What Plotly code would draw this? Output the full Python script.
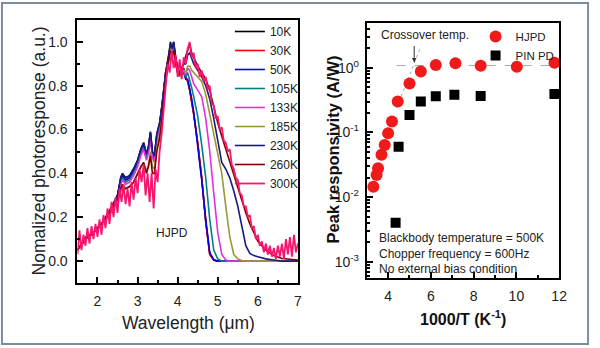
import math
import plotly.graph_objects as go

# ---------------- left panel: normalized photoresponse spectra ----------------
temps = ["10K", "30K", "50K", "105K", "133K", "185K", "230K", "260K", "300K"]
colors = ["#000000", "#ff0000", "#0000e6", "#008080", "#e030e0",
          "#999933", "#1a1a80", "#800000", "#f5166e"]

wl = [1.5, 1.7, 1.9, 2.1, 2.3, 2.5, 2.58, 2.62, 2.7, 2.8, 2.9, 3.0,
      3.08, 3.15, 3.22, 3.27, 3.32, 3.37, 3.42, 3.48, 3.55, 3.62,
      3.7, 3.78, 3.82, 3.86, 3.9, 3.95, 4.0, 4.05, 4.1, 4.15,
      4.2, 4.25, 4.3, 4.35, 4.4, 4.5, 4.6, 4.7, 4.8, 4.9,
      5.0, 5.1, 5.2, 5.3, 5.4, 5.5, 5.6, 5.7, 5.8, 5.9,
      6.0, 6.2, 6.4, 6.6, 6.8, 7.0]

r10K = [0.05, 0.10, 0.13, 0.17, 0.23, 0.30, 0.38, 0.40, 0.38, 0.39, 0.42, 0.46,
        0.51, 0.54, 0.49, 0.52, 0.59, 0.50, 0.48, 0.58, 0.63, 0.72,
        0.86, 0.94, 1.00, 0.96, 1.00, 0.92, 0.88, 0.85, 0.86, 0.88,
        0.84, 0.82, 0.78, 0.73, 0.67, 0.54, 0.38, 0.18, 0.03, 0.005,
        0, 0, 0, 0, 0, 0, 0, 0, 0, 0,
        0, 0, 0, 0, 0, 0]
r30K = [0.05, 0.10, 0.13, 0.17, 0.22, 0.30, 0.37, 0.39, 0.37, 0.38, 0.41, 0.45,
        0.50, 0.53, 0.48, 0.51, 0.58, 0.49, 0.47, 0.57, 0.62, 0.72,
        0.86, 0.93, 0.99, 0.95, 0.99, 0.92, 0.88, 0.85, 0.86, 0.87,
        0.84, 0.82, 0.78, 0.73, 0.67, 0.54, 0.38, 0.18, 0.03, 0.005,
        0, 0, 0, 0, 0, 0, 0, 0, 0, 0,
        0, 0, 0, 0, 0, 0]
r50K = [0.05, 0.10, 0.13, 0.17, 0.22, 0.30, 0.37, 0.39, 0.37, 0.38, 0.41, 0.45,
        0.50, 0.53, 0.48, 0.51, 0.58, 0.49, 0.47, 0.57, 0.62, 0.72,
        0.85, 0.93, 0.98, 0.95, 0.99, 0.91, 0.87, 0.85, 0.86, 0.86,
        0.83, 0.83, 0.79, 0.74, 0.68, 0.53, 0.37, 0.19, 0.04, 0.005,
        0, 0, 0, 0, 0, 0, 0, 0, 0, 0,
        0, 0, 0, 0, 0, 0]
r105K = [0.05, 0.10, 0.13, 0.17, 0.22, 0.29, 0.36, 0.38, 0.36, 0.37, 0.40, 0.44,
         0.49, 0.52, 0.47, 0.50, 0.57, 0.48, 0.46, 0.56, 0.61, 0.71,
         0.85, 0.93, 0.98, 0.95, 0.98, 0.91, 0.87, 0.85, 0.86, 0.86,
         0.84, 0.86, 0.83, 0.79, 0.75, 0.66, 0.53, 0.38, 0.19, 0.05,
         0.01, 0, 0, 0, 0, 0, 0, 0, 0, 0,
         0, 0, 0, 0, 0, 0]
r133K = [0.05, 0.10, 0.13, 0.17, 0.22, 0.29, 0.35, 0.37, 0.35, 0.36, 0.39, 0.43,
         0.48, 0.51, 0.46, 0.49, 0.56, 0.47, 0.45, 0.55, 0.60, 0.70,
         0.84, 0.92, 0.97, 0.94, 0.97, 0.90, 0.86, 0.85, 0.86, 0.87,
         0.85, 0.88, 0.87, 0.84, 0.81, 0.78, 0.75, 0.65, 0.50, 0.31,
         0.13, 0.03, 0.005, 0, 0, 0, 0, 0, 0, 0,
         0, 0, 0, 0, 0, 0]
r185K = [0.05, 0.10, 0.13, 0.17, 0.21, 0.27, 0.32, 0.34, 0.33, 0.34, 0.36, 0.40,
         0.43, 0.45, 0.41, 0.44, 0.50, 0.43, 0.42, 0.52, 0.58, 0.68,
         0.84, 0.93, 0.98, 0.95, 0.96, 0.90, 0.86, 0.84, 0.86, 0.87,
         0.86, 0.89, 0.89, 0.87, 0.86, 0.84, 0.82, 0.76, 0.67, 0.59,
         0.50, 0.40, 0.25, 0.11, 0.03, 0.01, 0.003, 0, 0, 0,
         0, 0, 0, 0, 0, 0]
r230K = [0.05, 0.10, 0.13, 0.17, 0.22, 0.30, 0.38, 0.40, 0.38, 0.39, 0.42, 0.46,
         0.51, 0.54, 0.49, 0.52, 0.59, 0.50, 0.48, 0.58, 0.63, 0.72,
         0.86, 0.94, 0.99, 0.97, 1.00, 0.93, 0.88, 0.86, 0.88, 0.90,
         0.90, 0.94, 0.95, 0.92, 0.90, 0.87, 0.84, 0.80, 0.74, 0.65,
         0.55, 0.45, 0.42, 0.38, 0.32, 0.25, 0.16, 0.07, 0.035, 0.025,
         0.02, 0.01, 0.005, 0, 0, 0]
r260K = [0.05, 0.11, 0.13, 0.17, 0.22, 0.28, 0.33, 0.35, 0.33, 0.34, 0.36, 0.40,
         0.43, 0.45, 0.40, 0.43, 0.48, 0.40, 0.40, 0.50, 0.56, 0.67,
         0.82, 0.92, 0.96, 0.94, 0.96, 0.90, 0.86, 0.85, 0.88, 0.91,
         0.93, 0.97, 0.99, 0.95, 0.93, 0.89, 0.86, 0.83, 0.78, 0.70,
         0.63, 0.57, 0.51, 0.45, 0.40, 0.34, 0.28, 0.22, 0.17, 0.13,
         0.09, 0.05, 0.025, 0.012, 0.008, 0.005]

wl300 = [1.50, 1.55, 1.60, 1.65, 1.70, 1.75, 1.80, 1.85, 1.90, 1.95,
         2.00, 2.05, 2.10, 2.15, 2.20, 2.25, 2.30, 2.35, 2.40, 2.45,
         2.50, 2.55, 2.60, 2.65, 2.70, 2.75, 2.80, 2.85, 2.90, 2.95,
         3.00, 3.05, 3.10, 3.15, 3.20, 3.25, 3.30, 3.35, 3.40, 3.45,
         3.50, 3.55, 3.60, 3.65, 3.70, 3.75, 3.80, 3.85, 3.90, 3.95,
         4.00, 4.05, 4.10, 4.15, 4.20, 4.25, 4.30, 4.35, 4.40, 4.45,
         4.50, 4.55, 4.60, 4.65, 4.70, 4.75, 4.80, 4.85, 4.90, 4.95,
         5.00, 5.05, 5.10, 5.15, 5.20, 5.25, 5.30, 5.35, 5.40, 5.45,
         5.50, 5.55, 5.60, 5.65, 5.70, 5.75, 5.80, 5.85, 5.90, 5.95,
         6.00, 6.05, 6.10, 6.15, 6.20, 6.25, 6.30, 6.35, 6.40, 6.45,
         6.50, 6.55, 6.60, 6.65, 6.70, 6.75, 6.80, 6.85, 6.90, 6.95,
         7.00]
r300K = [0.03, 0.14, 0.05, 0.12, 0.07, 0.15, 0.08, 0.16, 0.10, 0.17,
         0.11, 0.19, 0.12, 0.21, 0.15, 0.24, 0.17, 0.27, 0.20, 0.29,
         0.22, 0.33, 0.27, 0.35, 0.26, 0.33, 0.25, 0.36, 0.28, 0.38,
         0.31, 0.42, 0.36, 0.44, 0.30, 0.40, 0.27, 0.40, 0.24, 0.42,
         0.36, 0.50, 0.58, 0.70, 0.80, 0.90, 0.86, 0.96, 0.88, 0.94,
         0.84, 0.92, 0.83, 0.93, 0.90, 0.97, 1.00, 0.93, 0.95, 0.88,
         0.90, 0.84, 0.87, 0.82, 0.84, 0.78, 0.80, 0.72, 0.71, 0.65,
         0.66, 0.60, 0.61, 0.55, 0.54, 0.50, 0.51, 0.44, 0.42, 0.38,
         0.37, 0.31, 0.30, 0.25, 0.25, 0.20, 0.21, 0.15, 0.16, 0.10,
         0.12, 0.07, 0.09, 0.04, 0.08, 0.03, 0.07, 0.02, 0.06, 0.01,
         0.07, 0.02, 0.08, 0.01, 0.10, 0.03, 0.11, 0.02, 0.12, 0.04,
         0.08]

spectra = [(wl, r10K), (wl, r30K), (wl, r50K), (wl, r105K), (wl, r133K),
           (wl, r185K), (wl, r230K), (wl, r260K), (wl300, r300K)]

# ---------------- right panel: peak responsivity ----------------
inv_T_hjpd = [3.31, 3.46, 3.53, 3.69, 3.84, 4.0, 4.18, 4.45, 5.0, 5.53,
              6.23, 7.15, 8.33, 10.02, 11.78]
resp_hjpd = [0.0145, 0.022, 0.028, 0.045, 0.064, 0.097, 0.147, 0.30, 0.57, 0.87,
             1.1, 1.17, 1.07, 1.03, 1.19]
inv_T_pin = [4.35, 4.49, 5.0, 5.53, 6.23, 7.1, 8.33, 11.78]
resp_pin = [0.004, 0.06, 0.186, 0.30, 0.36, 0.38, 0.365, 0.39]

plateau_x = [4.4, 12.0]
plateau_y = [1.08, 1.08]
slope_x = [4.4, 5.5]
slope_y = [0.24, 2.0]
crossover_x = 5.22
crossover_y = 1.2

FONT = "Arial, 'Liberation Sans', sans-serif"
W, H = 600, 348

fig = go.Figure()

for (xs, ys), name, col in zip(spectra, temps, colors):
    fig.add_trace(go.Scatter(
        x=xs, y=ys, mode="lines", name=name,
        line=dict(color=col, width=1.6 if name != "300K" else 1.8),
        xaxis="x", yaxis="y", legend="legend"))

fig.add_trace(go.Scatter(x=plateau_x, y=plateau_y, mode="lines",
                         line=dict(color="#aaaaaa", width=1, dash="dash"),
                         xaxis="x2", yaxis="y2", showlegend=False))
fig.add_trace(go.Scatter(x=slope_x, y=slope_y, mode="lines",
                         line=dict(color="#aaaaaa", width=1, dash="dot"),
                         xaxis="x2", yaxis="y2", showlegend=False))
fig.add_trace(go.Scatter(x=inv_T_hjpd, y=resp_hjpd, mode="markers", name="HJPD",
                         marker=dict(symbol="circle", size=12, color="#f01a1a"),
                         xaxis="x2", yaxis="y2", legend="legend2"))
fig.add_trace(go.Scatter(x=inv_T_pin, y=resp_pin, mode="markers", name="PIN PD",
                         marker=dict(symbol="square", size=10, color="#000000"),
                         xaxis="x2", yaxis="y2", legend="legend2"))

axis_common = dict(showline=True, linecolor="black", linewidth=2, mirror=True,
                   ticks="inside", tickcolor="black", tickwidth=1.5,
                   showgrid=False, zeroline=False,
                   tickfont=dict(family=FONT, size=14, color="#222222"))

fig.update_layout(
    width=W, height=H,
    margin=dict(l=0, r=0, t=0, b=0),
    paper_bgcolor="white", plot_bgcolor="white",
    font=dict(family=FONT, color="#222222"),
    xaxis=dict(domain=[78.5 / W, 302 / W], range=[1.5, 7.001], dtick=1, ticklen=6,
               minor=dict(dtick=0.5, ticklen=3, ticks="inside", tickcolor="black", tickwidth=1.5),
               ticklabelstandoff=4, anchor="y", **axis_common),
    yaxis=dict(domain=[65 / H, 328 / H], range=[-0.1, 1.1], dtick=0.2, tickformat=".1f",
               ticklen=6,
               minor=dict(dtick=0.1, ticklen=3, ticks="inside", tickcolor="black", tickwidth=1.5),
               ticklabelstandoff=5, anchor="x", **axis_common),
    xaxis2=dict(domain=[371.7 / W, 566.7 / W], range=[3, 12.001], dtick=2, ticklen=6,
                minor=dict(dtick=1, ticklen=3, ticks="inside", tickcolor="black", tickwidth=1.5),
                ticklabelstandoff=4, anchor="y2", **axis_common),
    yaxis2=dict(domain=[70 / H, 325 / H], type="log", range=[-3.25, 0.69],
                tickmode="array", tickvals=[0.001, 0.01, 0.1, 1],
                ticktext=["10<sup>-3</sup>", "10<sup>-2</sup>", "10<sup>-1</sup>", "10<sup>0</sup>"],
                ticklen=6,
                minor=dict(tickmode="array",
                           tickvals=[k * 10 ** e for e in (-4, -3, -2, -1, 0) for k in range(2, 10)],
                           ticklen=3, ticks="inside", tickcolor="black", tickwidth=1.5),
                ticklabelstandoff=3, anchor="x2", **axis_common),
    legend=dict(x=233 / W, y=1 - 17 / H, xanchor="left", yanchor="top",
                bgcolor="rgba(0,0,0,0)", borderwidth=0,
                font=dict(family=FONT, size=12, color="#222222"),
                tracegroupgap=0),
    legend2=dict(x=482 / W, y=1 - 22 / H, xanchor="left", yanchor="top",
                 bgcolor="rgba(0,0,0,0)", borderwidth=0,
                 font=dict(family=FONT, size=11.5, color="#222222")),
    showlegend=True,
)

C = dict(xanchor="center", yanchor="middle", showarrow=False)
ann = [
    dict(text="Nomalized photoresponse (a.u.)", xref="paper", yref="paper",
         x=40 / W, y=1 - 151 / H, textangle=-90,
         font=dict(family=FONT, size=17.5, color="#222222"), **C),
    dict(text="Wavelength (\u03bcm)", xref="paper", yref="paper",
         x=191 / W, y=1 - 323 / H,
         font=dict(family=FONT, size=17.5, color="#222222"), **C),
    dict(text="<b>Peak responsivity (A/W)</b>", xref="paper", yref="paper",
         x=337 / W, y=1 - 150 / H, textangle=-90,
         font=dict(family=FONT, size=16.5, color="#111111"), **C),
    dict(text="<b>1000/T (K<sup>-1</sup>)</b>", xref="paper", yref="paper",
         x=469 / W, y=1 - 318 / H,
         font=dict(family=FONT, size=16, color="#111111"), **C),
    dict(text="HJPD", xref="x", yref="y", x=3.87, y=0.126,
         font=dict(family=FONT, size=12, color="#222222"), **C),
    dict(text="Crossover temp.", xref="x2", yref="paper", x=5.73, y=1 - 35 / H,
         font=dict(family=FONT, size=12, color="#222222"), **C),
    dict(text="", xref="x2", yref="y2", x=crossover_x, y=math.log10(crossover_y),
         showarrow=True, ax=0, ay=-18, arrowhead=2, arrowsize=0.9, arrowwidth=1,
         arrowcolor="#333333"),
    dict(text="Blackbody temperature = 500K<br>Chopper frequency = 600Hz<br>No external bias condition",
         xref="x2", yref="paper", x=3.5, y=1 - 253 / H, xanchor="left", yanchor="middle",
         align="left", showarrow=False,
         font=dict(family=FONT, size=12, color="#222222")),
]
fig.update_layout(annotations=ann)

fig.add_shape(type="rect", xref="paper", yref="paper",
              x0=2 / W, x1=596 / W, y0=4 / H, y1=1 - 3 / H,
              line=dict(color="#7a8ea3", width=2), fillcolor="rgba(0,0,0,0)")

fig.write_html("out.html")
